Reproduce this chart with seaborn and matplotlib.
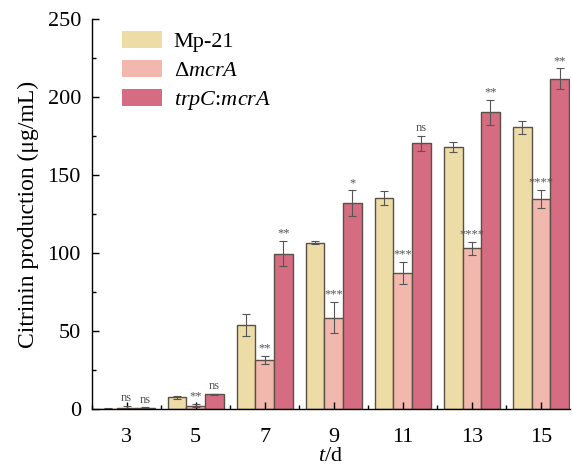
import numpy as np
import pandas as pd
import seaborn as sns
import matplotlib.pyplot as plt
from matplotlib.ticker import MultipleLocator, FixedLocator

# data
days = ["3", "5", "7", "9", "11", "13", "15"]
strains = ["Mp-21", "dmcrA", "trpC"]
labels = ["Mp-21", r"$\Delta$$\it{mcrA}$", r"$\it{trpC}$:$\it{mcrA}$"]
mp21 = [0.3, 7.5, 54.0, 106.5, 135.3, 168.0, 180.6]
dmcra = [0.6, 2.1, 31.5, 58.5, 87.4, 103.0, 134.6]
trpc = [0.8, 9.4, 99.5, 132.0, 170.3, 190.2, 211.7]
mp21_err = [0.2, 1.0, 7.0, 1.0, 4.6, 3.4, 4.0]
dmcra_err = [1.5, 1.0, 2.7, 10.0, 7.0, 4.0, 6.0]
trpc_err = [0.3, 0.5, 8.1, 8.1, 4.8, 8.0, 6.6]
dmcra_sig = ["ns", "**", "**", "***", "***", "****", "****"]
trpc_sig = ["ns", "ns", "**", "*", "ns", "**", "**"]

colors = ["#eedca6", "#f2b8ae", "#d66c82"]

plt.rcParams['font.family'] = ['Liberation Serif', 'DejaVu Serif']
plt.rcParams['mathtext.fontset'] = 'custom'
plt.rcParams['mathtext.rm'] = 'Liberation Serif'
plt.rcParams['mathtext.it'] = 'Liberation Serif:italic'

df = pd.DataFrame({
    "day": days * 3,
    "strain": [s for s in strains for _ in days],
    "val": mp21 + dmcra + trpc,
})
errs = [mp21_err, dmcra_err, trpc_err]

fig = plt.figure(figsize=(5.73, 4.71), dpi=100)
ax = fig.add_axes([0.1606, 0.1316, 0.834, 0.828])

sns.barplot(data=df, x="day", y="val", hue="strain", order=days,
            hue_order=strains, palette=colors, saturation=1, width=0.81,
            errorbar=None, edgecolor="#5a5048", linewidth=1.0, ax=ax)

sigs = [None, dmcra_sig, trpc_sig]
bar_conts = list(ax.containers)
for i, cont in enumerate(bar_conts):
    for j, bar in enumerate(cont):
        xc = bar.get_x() + bar.get_width() / 2
        h = bar.get_height()
        ax.errorbar(xc, h, yerr=errs[i][j], color="#555555", lw=0.8,
                    capsize=3, capthick=0.8)
        if sigs[i] is not None:
            ax.text(xc, h + errs[i][j] + 1.0, sigs[i][j], ha="center",
                    va="bottom", fontsize=9, color="#555555")

ax.set_ylim(0, 250)
ax.set_xlim(-0.5, 6.42)
ax.set_ylabel("Citrinin production (μg/mL)", fontsize=17, labelpad=6)
ax.set_xlabel("$\\it{t}$/d", fontsize=16, labelpad=0)
ax.yaxis.set_major_locator(MultipleLocator(50))
ax.yaxis.set_minor_locator(MultipleLocator(25))
ax.xaxis.set_minor_locator(FixedLocator(np.arange(-0.5, 6.5, 1.0)))
ax.tick_params(axis="both", which="major", direction="in", length=5,
               labelsize=16, width=1)
ax.tick_params(axis="both", which="minor", direction="in", length=3, width=1)
ax.tick_params(axis="y", which="both", pad=8)
ax.tick_params(axis="x", which="both", pad=14)
for s in ["top", "right"]:
    ax.spines[s].set_visible(False)
for s in ["left", "bottom"]:
    ax.spines[s].set_linewidth(1.0)

handles, _ = ax.get_legend_handles_labels()
ax.legend(handles, labels, loc="upper left", frameon=False, fontsize=16,
          bbox_to_anchor=(0.02, 1.02), handlelength=1.8, handleheight=0.8,
          handletextpad=0.55, labelspacing=0.35)
leg = ax.get_legend()
for p in leg.get_patches():
    p.set_edgecolor("none")

fig.savefig("out.png", dpi=100)
